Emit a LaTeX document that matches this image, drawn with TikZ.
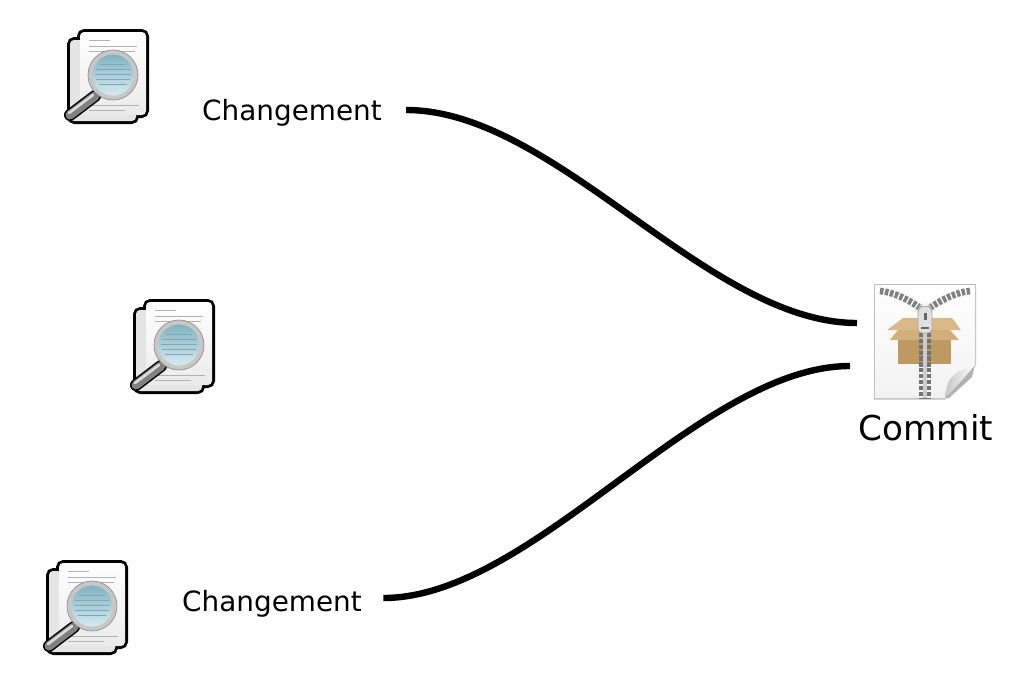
\documentclass[tikz,border=0pt]{standalone}
\usepackage{fontspec}
\setmainfont{DejaVu Sans}
\definecolor{cardboard}{HTML}{BE9A62}
\definecolor{flap}{HTML}{D9B987}
\definecolor{lens}{HTML}{8FC6D6}
\tikzset{
  changelabel/.style={font=\fontsize{20.9}{24}\selectfont, inner ysep=0pt, text height=20.4pt},
  commitlabel/.style={font=\fontsize{25.7}{30}\selectfont, inner sep=2pt},
  link/.style={line width=4.8pt, draw=black},
  textline/.style={draw=black!30, line width=0.4pt},
  loupe/.pic={
    % pic origin is the centre of the lens
    \draw[black, line width=3pt, rounded corners=4pt] (-44,-36) rectangle (24,47);
    \draw[black, line width=3pt, rounded corners=4pt] (-34,-44) rectangle (34,41);
    \fill[black!10, rounded corners=3pt] (-43,-35) rectangle (23,46);
    \shade[top color=white, bottom color=black!8, rounded corners=3pt] (-33,-43) rectangle (33,40);
    \foreach \ypos/\xend in {-35/-3,-29/24,-24/22,30/26,35/12}
      \draw[textline] (-24,\ypos) -- (\xend,\ypos);
    \draw[black, line width=9pt, line cap=round] (-18,21) -- (-43,40);
    \draw[black!50, line width=6.8pt, line cap=round] (-18,21) -- (-43,40);
    \draw[black!15, line width=2pt, line cap=round] (-20,20) -- (-44,38);
    \shade[top color=lens!90!black, bottom color=lens!35!white] (0,0) circle (21);
    \foreach \ypos/\halflen in {-11/13,-6/17,-1/18,4/17,9/14}
      \draw[black!15!lens, line width=0.4pt] (-\halflen,\ypos) -- (\halflen,\ypos);
    \draw[black!22, line width=3.2pt] (0,0) circle (22.8);
    \draw[black!45, line width=0.5pt] (0,0) circle (25);
  },
  zipfile/.pic={
    % pic origin is the top left corner of the page
    \fill[black!25] (-1,-1) -- (101,-1) -- (101,80) -- (70,114.5) -- (-1,114.5) -- cycle;
    \shade[top color=white, bottom color=black!5] (0,0) -- (100,0) -- (100,80) -- (70,113) -- (0,113) -- cycle;
    \fill[black!30] (70,113) .. controls (72,100) and (75,92) .. (100,80) -- (97,92) -- (74,113) -- cycle;
    \shade[left color=black!22, right color=white] (70,113) .. controls (72,98) and (72,88) .. (100,80) .. controls (90,92) and (80,103) .. cycle;
    \fill[flap] (12,45) -- (28,33) -- (77,33) -- (86,45) -- cycle;
    \fill[flap!70!cardboard] (15,55) -- (23,45) -- (75,45) -- (84,55) -- cycle;
    \fill[cardboard] (23,55) rectangle (76,79);
    \draw[black!50, line width=5pt, dash pattern=on 2.6pt off 1.2pt] (5,6) .. controls (18,7) and (32,14) .. (44,22);
    \draw[black!50, line width=5pt, dash pattern=on 2.6pt off 1.2pt] (95,6) .. controls (82,7) and (68,14) .. (56,22);
    \draw[black!55, line width=8.5pt, dash pattern=on 3.2pt off 1.2pt] (50,48) -- (50,113);
    \draw[black!20, line width=3pt] (50,48) -- (50,113);
    \draw[black!35, line width=0.6pt, fill=black!12, rounded corners=3pt] (43,24) -- (46,21) -- (54,21) -- (57,24) -- (57,48) -- (43,48) -- cycle;
    \fill[black!60] (48.5,28) rectangle (51.5,35);
    \fill[black!60] (46,42) rectangle (54,44);
  }
}
\begin{document}
\begin{tikzpicture}[x=0.75pt, y=-0.75pt]
  \useasboundingbox[fill=white] (0,0) rectangle (1021,694);
  \pic at (113,75) {loupe};
  \pic at (179,345) {loupe};
  \pic at (92,606) {loupe};
  \pic at (875,285) {zipfile};
  \node[changelabel, inner xsep=18pt] (change1) at (292,110) {Changement};
  \node[changelabel, inner xsep=16pt] (change2) at (272,601) {Changement};
  \node[commitlabel] (commit) at (926,428) {Commit};
  \coordinate (zipin1) at (857,323);
  \coordinate (zipin2) at (850,366);
  \draw[link] (change1.east) .. controls +(150,0) and +(-150,0) .. (zipin1);
  \draw[link] ([yshift=2.25pt]change2.east) .. controls +(150,0) and +(-150,0) .. (zipin2);
\end{tikzpicture}
\end{document}
